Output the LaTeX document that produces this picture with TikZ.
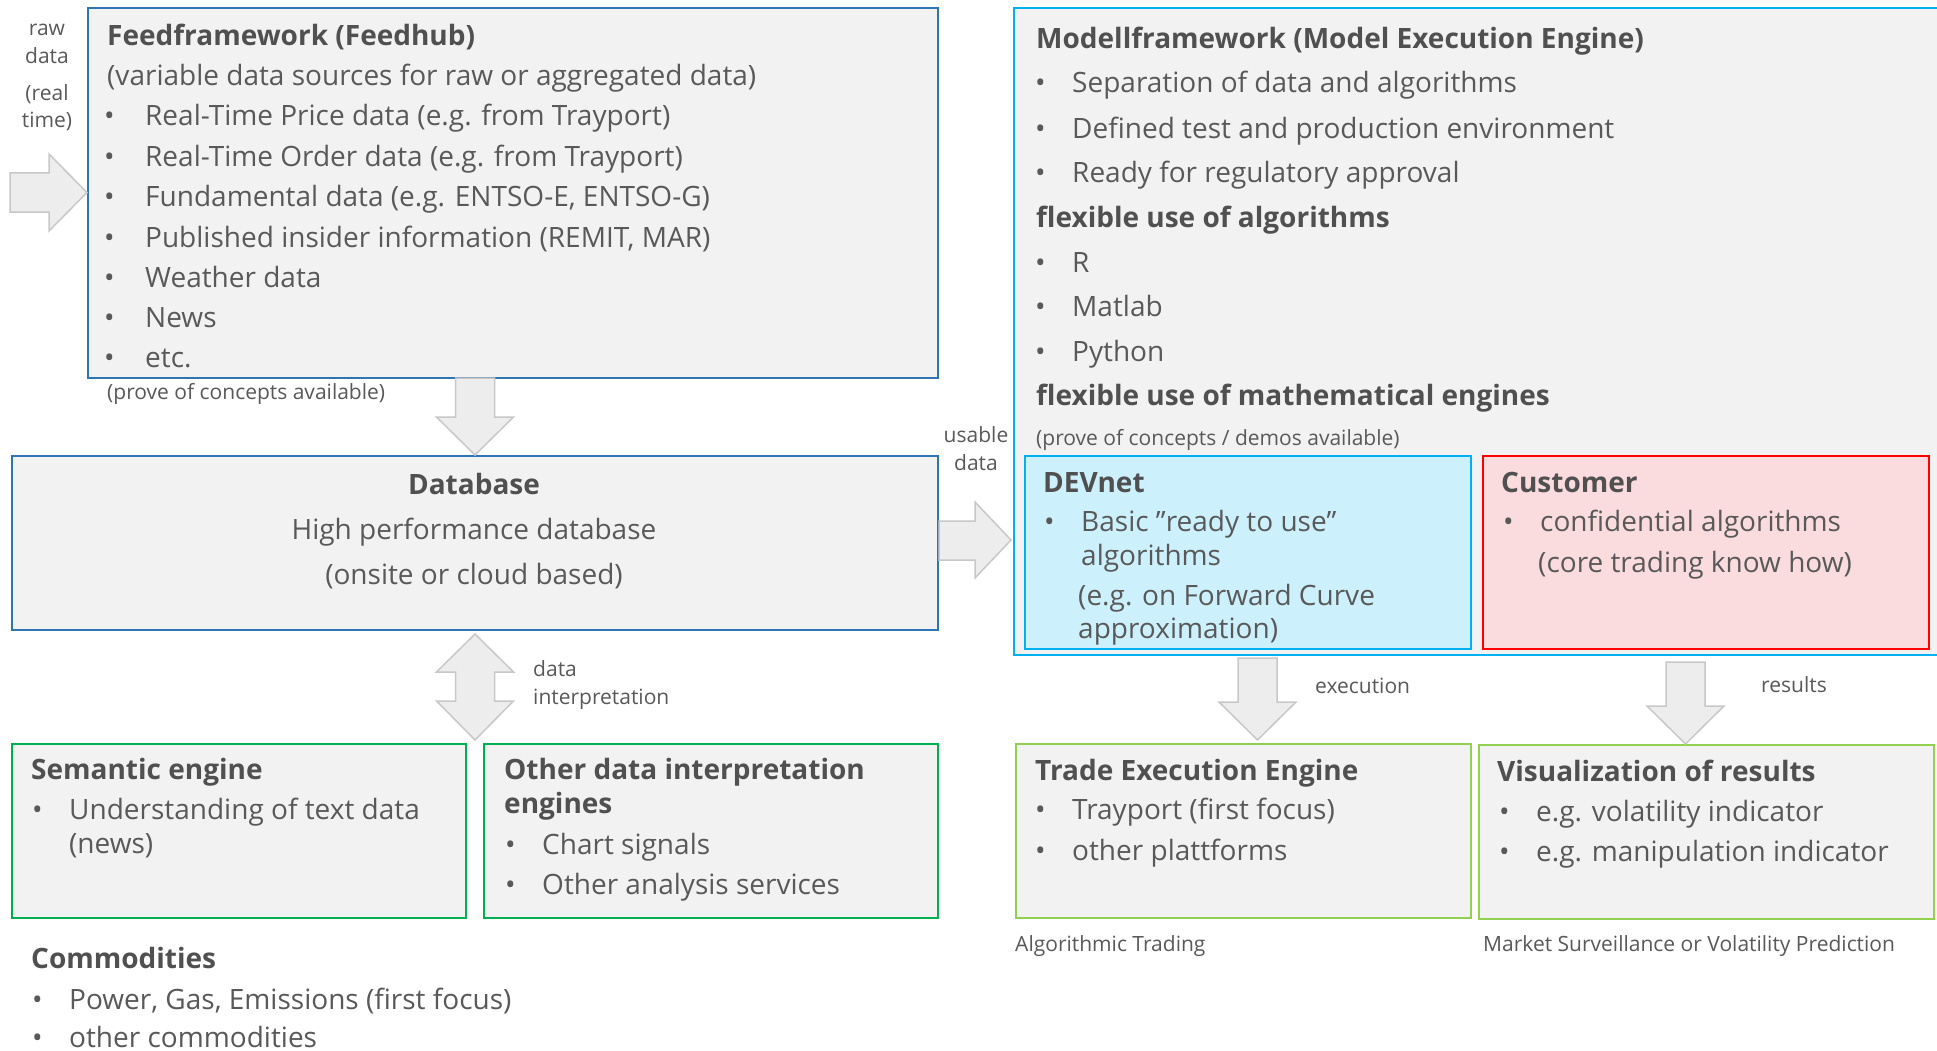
\documentclass[tikz,border=0pt]{standalone}
\usepackage{fontspec}
\setmainfont{Open Sans}
\definecolor{txtg}{HTML}{595959}
\definecolor{ttlg}{HTML}{505050}
\definecolor{boxfill}{HTML}{F2F2F2}
\definecolor{darkblue}{HTML}{2E75B6}
\definecolor{lightblue}{HTML}{00B0F0}
\definecolor{devfill}{HTML}{CCF1FD}
\definecolor{custfill}{HTML}{FBDCDE}
\definecolor{custred}{HTML}{FF0000}
\definecolor{green1}{HTML}{00B050}
\definecolor{green2}{HTML}{92D050}
\definecolor{arrfill}{HTML}{EDEDED}
\definecolor{arrline}{HTML}{C8C8C8}
\newcommand\fbody{\fontsize{28}{34}\selectfont}
\newcommand\fsmall{\fontsize{21}{25}\selectfont}
\newcommand\bl[2][37pt]{\makebox[#1][l]{•}#2}
\tikzset{
  box/.style={draw, line width=2pt, fill=boxfill, inner sep=0pt, anchor=north west},
  txt/.style={anchor=base west, inner sep=0pt, font=\fbody, text=txtg, yshift=-1.5pt},
  ttl/.style={anchor=base west, inner sep=0pt, font=\fbody\bfseries, text=ttlg, yshift=-1.5pt},
  small/.style={anchor=base west, inner sep=0pt, font=\fsmall, text=txtg, yshift=-1pt},
  blockarrow/.style={fill=arrfill, draw=arrline, line width=1.5pt, line join=miter}
}
\begin{document}
\begin{tikzpicture}[x=1pt,y=-1pt]
\useasboundingbox (0,0) rectangle (1937,1051);
\clip (0,0) rectangle (1937,1051);
\fill[white] (0,0) rectangle (1937,1051);

% boxes
\node[box, draw=darkblue, minimum width=850pt, minimum height=370pt] (feed) at (87,7) {};
\node[box, draw=darkblue, minimum width=926pt, minimum height=174pt] (db) at (11,455) {};
\node[box, draw=lightblue, minimum width=950pt, minimum height=647pt] (model) at (1013,7) {};
\node[box, draw=lightblue, fill=devfill, minimum width=446pt, minimum height=193pt] (devnet) at (1024,455) {};
\node[box, draw=custred, fill=custfill, minimum width=446pt, minimum height=193pt] (cust) at (1482,455) {};
\node[box, draw=green1, minimum width=454pt, minimum height=174pt] (sem) at (11,743) {};
\node[box, draw=green1, minimum width=454pt, minimum height=174pt] (other) at (483,743) {};
\node[box, draw=green2, minimum width=455pt, minimum height=174pt] (trade) at (1015,743) {};
\node[box, draw=green2, minimum width=455pt, minimum height=174pt] (vis) at (1478,744) {};

% block arrows
\draw[blockarrow] (10,173) -- (49,173) -- (49,154) -- (feed.west |- 0,192.5) -- (49,231) -- (49,212) -- (10,212) -- cycle;
\draw[blockarrow, shift={(db.north)}] (-19.5,-77) -- (19.5,-77) -- (19.5,-38) -- (38.5,-38) -- (0,0) -- (-38.5,-38) -- (-19.5,-38) -- cycle;
\draw[blockarrow, shift={(1011,540)}] (-72,-19) -- (-36,-19) -- (-36,-38) -- (0,0) -- (-36,38) -- (-36,20) -- (-72,20) -- cycle;
\draw[blockarrow, shift={(db.south)}] (0,3) -- (38.5,41) -- (19.5,41) -- (19.5,70) -- (38.5,70) -- (0,109) -- (-38.5,70) -- (-19.5,70) -- (-19.5,41) -- (-38.5,41) -- cycle;
\draw[blockarrow, shift={(1257.5,740)}] (-19.5,-82) -- (19.5,-82) -- (19.5,-38) -- (38.5,-38) -- (0,0) -- (-38.5,-38) -- (-19.5,-38) -- cycle;
\draw[blockarrow, shift={(1685.5,744)}] (-19.5,-82) -- (19.5,-82) -- (19.5,-38) -- (38.5,-38) -- (0,0) -- (-38.5,-38) -- (-19.5,-38) -- cycle;

% raw data label
\node[small, anchor=base] (raw1) at (47,35) {raw};
\node[small, anchor=base] (raw2) at (47,63) {data};
\node[small, anchor=base] (raw3) at (47,100) {(real};
\node[small, anchor=base] (raw4) at (47,127) {time)};

% feed text
\node[ttl] (f0) at (107,44) {Feedframework (Feedhub)};
\node[txt] (f1) at (107,84.5) {(variable data sources for raw or aggregated data)};
\node[txt] (f2) at (104,124.5) {\bl[41pt]{Real-Time Price data (e.g. from Trayport)}};
\node[txt] (f3) at (104,165) {\bl[41pt]{Real-Time Order data (e.g. from Trayport)}};
\node[txt] (f4) at (104,205.5) {\bl[41pt]{Fundamental data (e.g. ENTSO-E, ENTSO-G)}};
\node[txt] (f5) at (104,245.5) {\bl[41pt]{Published insider information (REMIT, MAR)}};
\node[txt] (f6) at (104,285.5) {\bl[41pt]{Weather data}};
\node[txt] (f7) at (104,326) {\bl[41pt]{News}};
\node[txt] (f8) at (104,366) {\bl[41pt]{etc.}};
\node[small] (fpoc) at (107,398.5) {(prove of concepts available)};

% database
\node[ttl, anchor=base] (d0) at (474,493) {Database};
\node[txt, anchor=base] (d1) at (474,538) {High performance database};
\node[txt, anchor=base] (d2) at (474,583) {(onsite or cloud based)};

% usable data
\node[small, anchor=base] (u1) at (976,441) {usable};
\node[small, anchor=base] (u2) at (976,469) {data};

% data interpretation
\node[small] (di1) at (533,675) {data};
\node[small] (di2) at (533,703) {interpretation};

% model framework
\node[ttl] (m0) at (1036,47.5) {Modellframework (Model Execution Engine)};
\node[txt] (m1) at (1035,91) {\bl{Separation of data and algorithms}};
\node[txt] (m2) at (1035,137) {\bl{Defined test and production environment}};
\node[txt] (m3) at (1035,181) {\bl{Ready for regulatory approval}};
\node[ttl] (m4) at (1036,225.5) {flexible use of algorithms};
\node[txt] (m5) at (1035,270.5) {\bl{R}};
\node[txt] (m6) at (1035,315) {\bl{Matlab}};
\node[txt] (m7) at (1035,360) {\bl{Python}};
\node[ttl] (m8) at (1036,404) {flexible use of mathematical engines};
\node[small] (m9) at (1036,444) {(prove of concepts / demos available)};

% devnet
\node[ttl] (dv0) at (1043,491) {DEVnet};
\node[txt] (dv1) at (1044,530) {\bl{Basic ”ready to use”}};
\node[txt] (dv2) at (1081,564) {algorithms};
\node[txt] (dv3) at (1078,604) {(e.g. on Forward Curve};
\node[txt] (dv4) at (1078,637) {approximation)};

% customer
\node[ttl] (c0) at (1501,491) {Customer};
\node[txt] (c1) at (1503,530) {\bl{confidential algorithms}};
\node[txt] (c2) at (1538,571) {(core trading know how)};

% execution / results labels
\node[small] (ex) at (1315,692) {execution};
\node[small] (res) at (1761,691) {results};

% semantic
\node[ttl] (s0) at (31,778) {Semantic engine};
\node[txt] (s1) at (32,818) {\bl{Understanding of text data}};
\node[txt] (s2) at (69,852) {(news)};

% other
\node[ttl] (o0) at (504,778) {Other data interpretation};
\node[ttl] (o1) at (504,811.5) {engines};
\node[txt] (o2) at (505,852.5) {\bl{Chart signals}};
\node[txt] (o3) at (505,893) {\bl{Other analysis services}};

% commodities
\node[ttl] (k0) at (31,967) {Commodities};
\node[txt] (k1) at (32,1007.5) {\bl{Power, Gas, Emissions (first focus)}};
\node[txt] (k2) at (32,1045.5) {\bl{other commodities}};

% trade
\node[ttl] (t0) at (1035,778.5) {Trade Execution Engine};
\node[txt] (t1) at (1035,818) {\bl{Trayport (first focus)}};
\node[txt] (t2) at (1035,859) {\bl{other plattforms}};
\node[small] (t3) at (1015,950) {Algorithmic Trading};

% visualization
\node[ttl] (v0) at (1497,779.5) {Visualization of results};
\node[txt] (v1) at (1499,819.5) {\bl{e.g. volatility indicator}};
\node[txt] (v2) at (1499,860) {\bl{e.g. manipulation indicator}};
\node[small] (v3) at (1483,950) {Market Surveillance or Volatility Prediction};
\end{tikzpicture}
\end{document}
